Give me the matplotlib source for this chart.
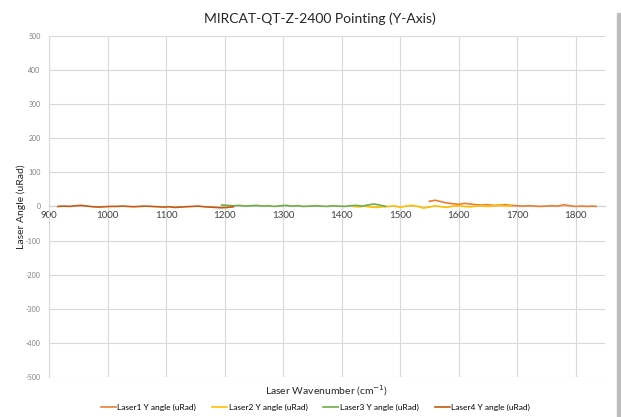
import matplotlib
matplotlib.use("Agg")
import matplotlib.pyplot as plt
from matplotlib.patches import Rectangle
from matplotlib.ticker import FuncFormatter

plt.rcParams['font.family'] = ['Lato', 'DejaVu Sans']

# data (wavenumber cm-1, angle uRad)
laser4_x = [915, 925, 935, 945, 955, 965, 975, 985, 995, 1005, 1015, 1025, 1035, 1045,
            1055, 1065, 1075, 1085, 1095, 1105, 1115, 1125, 1135, 1145, 1155, 1165,
            1175, 1185, 1195, 1205, 1215]
laser4_y = [0, 1, 0, 2, 3, 1, -1, -2, -1, 0, 0, 1, 0, -1, 0, 1, 0, -1, -2, -1,
            -3, -2, -1, 0, 1, -1, -2, -3, -4, -3, -1]

laser3_x = [1195, 1205, 1215, 1225, 1235, 1245, 1255, 1265, 1275, 1285, 1295, 1305,
            1315, 1325, 1335, 1345, 1355, 1365, 1375, 1385, 1395, 1405, 1415, 1425,
            1435, 1445, 1455, 1465, 1475]
laser3_y = [4, 3, 2, 3, 1, 2, 3, 1, 2, 0, 2, 3, 1, 2, 0, 1, 2, 1, 0, 2, 1, 0, 2,
            3, 1, 4, 7, 4, 0]

laser2_x = [1420, 1430, 1440, 1450, 1460, 1470, 1480, 1490, 1500, 1510, 1520, 1530,
            1540, 1550, 1560, 1570, 1580, 1590, 1600, 1610, 1620, 1630, 1640, 1650,
            1660, 1670, 1680, 1690]
laser2_y = [0, -1, 1, -2, -3, -1, 0, 2, -3, 1, 3, 0, -5, -2, 2, -1, -3, 1, 2, 0,
            -1, 1, 2, 0, 2, 3, 2, 1]

laser1_x = [1550, 1560, 1570, 1580, 1590, 1600, 1610, 1620, 1630, 1640, 1650, 1660,
            1670, 1680, 1690, 1700, 1710, 1720, 1730, 1740, 1750, 1760, 1770, 1780,
            1790, 1800, 1810, 1820, 1830, 1835]
laser1_y = [15, 18, 14, 10, 8, 6, 9, 7, 5, 4, 5, 3, 4, 5, 3, 2, 1, 2, 1, 0, 1, 2,
            1, 5, 2, 0, 1, 0, 1, 0]

series = [
    ("Laser1 Y angle (uRad)", laser1_x, laser1_y, "#ED7D31"),
    ("Laser2 Y angle (uRad)", laser2_x, laser2_y, "#FFC000"),
    ("Laser3 Y angle (uRad)", laser3_x, laser3_y, "#70AD47"),
    ("Laser4 Y angle (uRad)", laser4_x, laser4_y, "#C55A11"),
]

fig = plt.figure(figsize=(6.21, 4.17), dpi=100)
ax = fig.add_axes([0.079, 0.096, 0.895, 0.818])

for name, xs, ys, col in series:
    ax.plot(xs, ys, color=col, lw=1.2, label=name, zorder=3)

ax.set_xlim(900, 1850)
ax.set_ylim(-500, 500)
ax.set_xticks(range(900, 1801, 100))
ax.set_yticks(range(-500, 501, 100))
ax.yaxis.set_major_formatter(FuncFormatter(lambda v, p: "%d" % v))
ax.grid(True, color="#D9D9D9", lw=0.8)
ax.set_axisbelow(True)

for s in ["top", "right"]:
    ax.spines[s].set_visible(False)
ax.spines["left"].set_color("#D9D9D9")
ax.spines["bottom"].set_position(("data", 0))
ax.spines["bottom"].set_color("#D0D0D0")
ax.spines["bottom"].set_zorder(1)
ax.tick_params(axis="both", length=0)
ax.tick_params(axis="x", labelsize=7, labelcolor="#404040", pad=3)
ax.tick_params(axis="y", labelsize=5, labelcolor="#7F7F7F", pad=6)

fig.text(0.515, 0.955, "MIRCAT-QT-Z-2400 Pointing (Y-Axis)", ha="center",
         va="center", fontsize=10, color="#262626")
ax.text(0.5, -0.02, "Laser Wavenumber (cm$^{-1}$)", transform=ax.transAxes,
        ha="center", va="top", fontsize=7.5, color="#262626")
fig.text(0.034, 0.505, "Laser Angle (uRad)", ha="center", va="center",
         rotation=90, fontsize=7.5, color="#262626")

fig.legend(loc="center", bbox_to_anchor=(0.508, 0.024), ncol=4, frameon=False,
           fontsize=6, handlelength=1.8, columnspacing=1.9, handletextpad=0.2)

# grey shadow at right edge
fig.patches.append(Rectangle((0.993, 0.0), 0.007, 0.97, transform=fig.transFigure,
                             color="#BDBDBD", zorder=-1))

fig.savefig("out.png", dpi=100)
